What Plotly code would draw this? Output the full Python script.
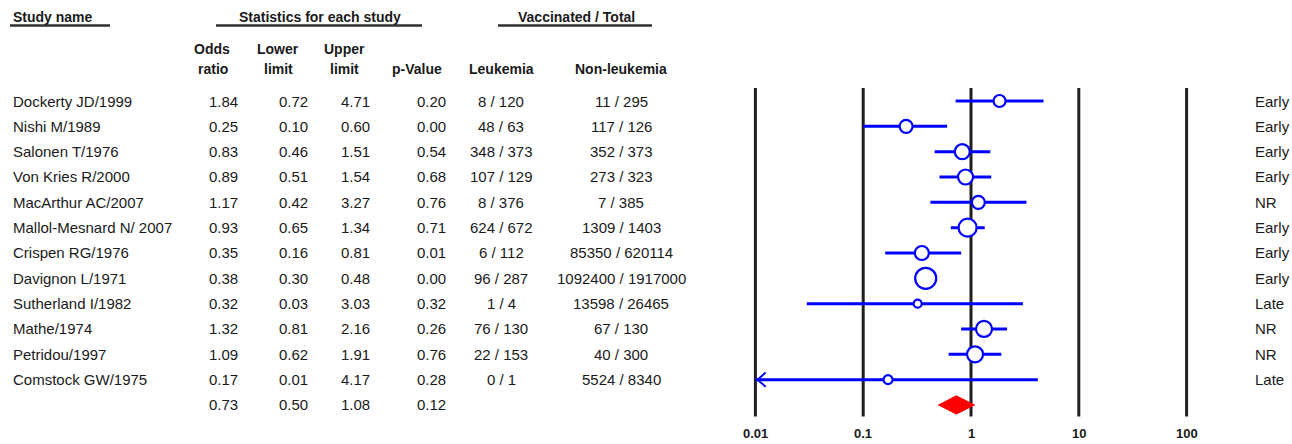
import math
import plotly.graph_objects as go

# ---------------- data ----------------
studies = ["Dockerty JD/1999", "Nishi M/1989", "Salonen T/1976", "Von Kries R/2000",
           "MacArthur AC/2007", "Mallol-Mesnard N/ 2007", "Crispen RG/1976",
           "Davignon L/1971", "Sutherland I/1982", "Mathe/1974", "Petridou/1997",
           "Comstock GW/1975"]
odds_ratio = [1.84, 0.25, 0.83, 0.89, 1.17, 0.93, 0.35, 0.38, 0.32, 1.32, 1.09, 0.17]
lower_limit = [0.72, 0.10, 0.46, 0.51, 0.42, 0.65, 0.16, 0.30, 0.03, 0.81, 0.62, 0.01]
upper_limit = [4.71, 0.60, 1.51, 1.54, 3.27, 1.34, 0.81, 0.48, 3.03, 2.16, 1.91, 4.17]
p_value = [0.20, 0.00, 0.54, 0.68, 0.76, 0.71, 0.01, 0.00, 0.32, 0.26, 0.76, 0.28]
leukemia = ["8 / 120", "48 / 63", "348 / 373", "107 / 129", "8 / 376", "624 / 672",
            "6 / 112", "96 / 287", "1 / 4", "76 / 130", "22 / 153", "0 / 1"]
non_leukemia = ["11 / 295", "117 / 126", "352 / 373", "273 / 323", "7 / 385",
                "1309 / 1403", "85350 / 620114", "1092400 / 1917000", "13598 / 26465",
                "67 / 130", "40 / 300", "5524 / 8340"]
timing = ["Early", "Early", "Early", "Early", "NR", "Early", "Early", "Early",
          "Late", "NR", "NR", "Late"]
weight_marker_size = [12, 13, 15, 15, 13, 18, 14, 21, 8, 16, 16, 9]

summary_or, summary_lo, summary_hi, summary_p = 0.73, 0.50, 1.08, 0.12

tick_values = [0.01, 0.1, 1, 10, 100]
tick_labels = ["0.01", "0.1", "1", "10", "100"]

# ---------------- layout helpers ----------------
W, H = 1292, 444
ROW0_PX, ROW_STEP = 101.0, 25.33        # pixel y of first row and row spacing
ONE_PX, DEC_PX = 971.0, 107.8           # pixel x of OR=1 and pixels per decade
FONT = "Liberation Sans, Arial, Helvetica, sans-serif"
TXT = "#1a1a1a"
BLUE = "#0000ff"


def row_of_px(p):
    return (p - ROW0_PX) / ROW_STEP


def px_x(p):
    return p / W


n = len(studies)
rows = list(range(n))
summary_row = n

fig = go.Figure()

# reference vertical lines at each tick
for tv in tick_values:
    fig.add_shape(type="line", xref="x", yref="y",
                  x0=math.log10(tv), x1=math.log10(tv),
                  y0=row_of_px(88), y1=row_of_px(416.5),
                  line=dict(color="#202020", width=3), layer="below")

# CI lines
cx, cy = [], []
arrow_x, arrow_y = [], []
for i in rows:
    lo = max(lower_limit[i], tick_values[0])
    cx += [math.log10(lo), math.log10(upper_limit[i]), None]
    cy += [i, i, None]
    if lower_limit[i] <= tick_values[0]:
        tip = math.log10(lo) + 0.02
        arrow_x += [tip + 0.075, tip, tip + 0.075, None]
        arrow_y += [i - 0.28, i, i + 0.28, None]
fig.add_trace(go.Scatter(x=cx, y=cy, mode="lines",
                         line=dict(color=BLUE, width=3), hoverinfo="skip"))
if arrow_x:
    fig.add_trace(go.Scatter(x=arrow_x, y=arrow_y, mode="lines",
                             line=dict(color=BLUE, width=2), hoverinfo="skip"))

# point estimates
fig.add_trace(go.Scatter(
    x=[math.log10(v) for v in odds_ratio], y=rows, mode="markers",
    marker=dict(symbol="circle", size=weight_marker_size, color="white", opacity=1,
                line=dict(color=BLUE, width=2.2)),
    text=studies, hovertemplate="%{text}<extra></extra>"))

# summary diamond
h = 0.36
fig.add_trace(go.Scatter(
    x=[math.log10(summary_lo), math.log10(summary_or), math.log10(summary_hi),
       math.log10(summary_or), math.log10(summary_lo)],
    y=[summary_row, summary_row - h, summary_row, summary_row + h, summary_row],
    mode="lines", fill="toself", fillcolor="#ff0000",
    line=dict(color="#ff0000", width=1), hoverinfo="skip"))

ann = []


def add_text(text, xp, yrow, anchor="center", bold=False, size=15, yanchor="middle"):
    ann.append(dict(text=f"<b>{text}</b>" if bold else text,
                    x=px_x(xp), xref="paper", y=yrow, yref="y",
                    xanchor=anchor, yanchor=yanchor, showarrow=False,
                    font=dict(family=FONT, size=size, color=TXT)))


# headers
add_text("Study name", 11, row_of_px(17), anchor="left", bold=True, size=14)
add_text("Statistics for each study", 320, row_of_px(17), bold=True, size=14)
add_text("Vaccinated / Total", 576, row_of_px(17), bold=True, size=14)
add_text("Odds", 212, row_of_px(49), bold=True, size=14)
add_text("ratio", 213, row_of_px(69), bold=True, size=14)
add_text("Lower", 278, row_of_px(49), bold=True, size=14)
add_text("limit", 278, row_of_px(69), bold=True, size=14)
add_text("Upper", 345, row_of_px(49), bold=True, size=14)
add_text("limit", 345, row_of_px(69), bold=True, size=14)
add_text("p-Value", 417, row_of_px(69), bold=True, size=14)
add_text("Leukemia", 501, row_of_px(69), bold=True, size=14)
add_text("Non-leukemia", 621, row_of_px(69), bold=True, size=14)

for x0, x1 in [(10, 110), (216, 422), (498, 652)]:
    fig.add_shape(type="line", xref="paper", yref="y",
                  x0=px_x(x0), x1=px_x(x1), y0=row_of_px(25.5), y1=row_of_px(25.5),
                  line=dict(color="#303030", width=2.5))

# table rows
for i in rows:
    add_text(studies[i], 11, i, anchor="left")
    add_text(f"{odds_ratio[i]:.2f}", 240, i, anchor="right")
    add_text(f"{lower_limit[i]:.2f}", 310, i, anchor="right")
    add_text(f"{upper_limit[i]:.2f}", 372, i, anchor="right")
    add_text(f"{p_value[i]:.2f}", 448, i, anchor="right")
    add_text(leukemia[i], 501, i)
    add_text(non_leukemia[i], 621, i)
    add_text(timing[i], 1253, i, anchor="left")

add_text(f"{summary_or:.2f}", 240, summary_row, anchor="right")
add_text(f"{summary_lo:.2f}", 310, summary_row, anchor="right")
add_text(f"{summary_hi:.2f}", 372, summary_row, anchor="right")
add_text(f"{summary_p:.2f}", 448, summary_row, anchor="right")

# axis tick labels
for tv, tl in zip(tick_values, tick_labels):
    ann.append(dict(text=f"<b>{tl}</b>", x=math.log10(tv), xref="x",
                    y=row_of_px(443), yref="y", xanchor="center", yanchor="bottom",
                    showarrow=False, font=dict(family=FONT, size=13, color=TXT)))

x_range = [(0 - ONE_PX) / DEC_PX, (W - ONE_PX) / DEC_PX]
y_range = [row_of_px(H), row_of_px(0)]

fig.update_layout(
    width=W, height=H,
    margin=dict(l=0, r=0, t=0, b=0),
    paper_bgcolor="white", plot_bgcolor="white",
    showlegend=False,
    annotations=ann,
    xaxis=dict(range=x_range, domain=[0, 1], visible=False, fixedrange=True),
    yaxis=dict(range=y_range, domain=[0, 1], visible=False, fixedrange=True),
)

fig.write_html("out.html")
